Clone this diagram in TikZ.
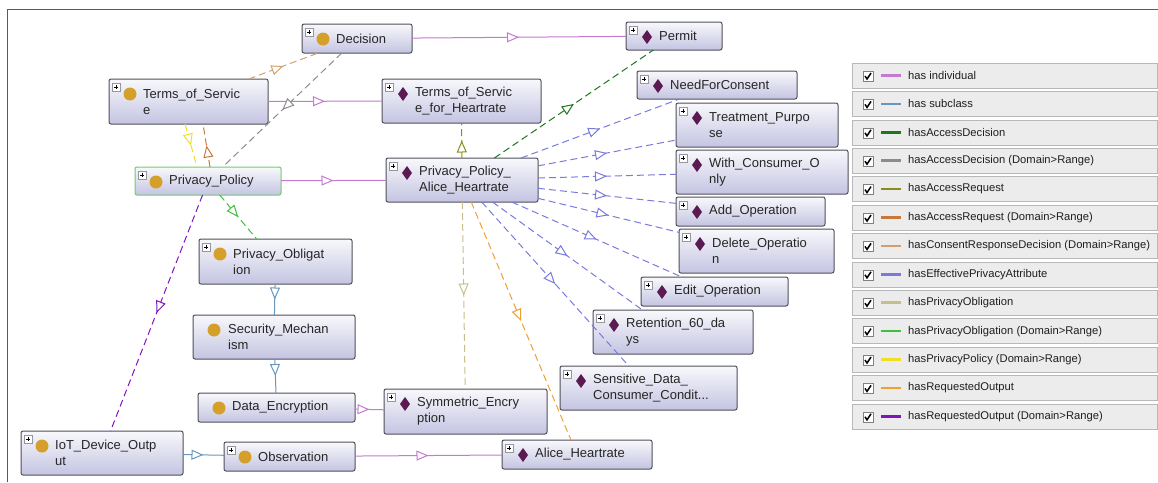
\documentclass[tikz,border=0pt]{standalone}
\usepackage{fontspec}
\setmainfont{Liberation Sans}
\usetikzlibrary{arrows.meta,decorations.markings}

% Colores de las cajas
\definecolor{boxline}{RGB}{80,80,90}
\definecolor{boxtop}{RGB}{248,248,252}
\definecolor{boxbot}{RGB}{196,196,226}
\definecolor{gold}{RGB}{212,160,42}
\definecolor{plum}{RGB}{92,26,82}
\definecolor{ppgreen}{RGB}{110,205,110}
\definecolor{frame}{RGB}{90,90,90}
\definecolor{rowfill}{RGB}{236,236,236}
\definecolor{rowline}{RGB}{184,184,184}
% Colores de las relaciones
\definecolor{indv}{RGB}{196,122,208}
\definecolor{subc}{RGB}{104,150,190}
\definecolor{accdec}{RGB}{30,118,30}
\definecolor{accdecdr}{RGB}{140,140,140}
\definecolor{accreq}{RGB}{140,140,30}
\definecolor{accreqdr}{RGB}{200,120,60}
\definecolor{consdr}{RGB}{210,160,110}
\definecolor{effpriv}{RGB}{122,122,222}
\definecolor{privobl}{RGB}{200,190,140}
\definecolor{privobldr}{RGB}{64,190,64}
\definecolor{privpoldr}{RGB}{240,222,40}
\definecolor{reqout}{RGB}{240,160,50}
\definecolor{reqoutdr}{RGB}{128,20,190}

\begin{document}
\begin{tikzpicture}[x=1pt, y=-1pt,
    box/.style={draw=boxline, line width=1pt, rounded corners=2pt, top color=boxtop, bottom color=boxbot, anchor=north west, inner sep=0pt, outer sep=0pt},
    txt/.style={anchor=west, inner sep=0pt, align=left, text=black!85, font=\fontsize{13}{16}\selectfont},
    rel/.style={line width=1pt, postaction={decorate}, decoration={markings, mark=at position 0.5 with {\arrow{Triangle[open, fill=white, length=12pt, width=10pt]}}}},
    dsh/.style={dash pattern=on 7pt off 4pt},
    legrow/.style={draw=rowline, fill=rowfill, anchor=north west, minimum width=305pt, minimum height=25pt, inner sep=0pt, outer sep=0pt},
    legtxt/.style={anchor=west, inner sep=0pt, text=black!88, font=\fontsize{11.2}{13}\selectfont}]
    \useasboundingbox (0,0) rectangle (1158,482);

    % Marco
    \draw[frame, line width=1pt] (7,482) -- (7,9) -- (1158,9);

    % Clases
    \node[box, minimum width=110pt, minimum height=29pt] (dec) at (302,24) {};
    \node[txt] (dec-t) at ([xshift=34pt]dec.west) {Decision};
    \node[box, minimum width=159pt, minimum height=45pt] (tos) at (109,79) {};
    \node[txt] (tos-t) at ([xshift=34pt]tos.west) {Terms\_of\_Servic\\e};
    \node[box, draw=ppgreen, minimum width=146pt, minimum height=28pt] (pp) at (135,167) {};
    \node[txt] (pp-t) at ([xshift=34pt]pp.west) {Privacy\_Policy};
    \node[box, minimum width=153pt, minimum height=45pt] (po) at (199,239) {};
    \node[txt] (po-t) at ([xshift=34pt]po.west) {Privacy\_Obligat\\ion};
    \node[box, minimum width=162pt, minimum height=44pt] (sm) at (193,315) {};
    \node[txt] (sm-t) at ([xshift=35pt]sm.west) {Security\_Mechan\\ism};
    \node[box, minimum width=157pt, minimum height=29pt] (de) at (198,393) {};
    \node[txt] (de-t) at ([xshift=34pt]de.west) {Data\_Encryption};
    \node[box, minimum width=162pt, minimum height=44pt] (iot) at (21,431) {};
    \node[txt] (iot-t) at ([xshift=34pt]iot.west) {IoT\_Device\_Outp\\ut};
    \node[box, minimum width=131pt, minimum height=29pt] (obs) at (224,442) {};
    \node[txt] (obs-t) at ([xshift=34pt]obs.west) {Observation};

    % Individuos
    \node[box, minimum width=96pt, minimum height=28pt] (perm) at (626,22) {};
    \node[txt] (perm-t) at ([xshift=33pt]perm.west) {Permit};
    \node[box, minimum width=159pt, minimum height=44pt] (tosh) at (382,79) {};
    \node[txt] (tosh-t) at ([xshift=33pt]tosh.west) {Terms\_of\_Servic\\e\_for\_Heartrate};
    \node[box, minimum width=152pt, minimum height=44pt] (ppah) at (386,158) {};
    \node[txt] (ppah-t) at ([xshift=33pt]ppah.west) {Privacy\_Policy\_\\Alice\_Heartrate};
    \node[box, minimum width=160pt, minimum height=28pt] (nfc) at (637,71) {};
    \node[txt] (nfc-t) at ([xshift=33pt]nfc.west) {NeedForConsent};
    \node[box, minimum width=162pt, minimum height=44pt] (tp) at (676,103) {};
    \node[txt] (tp-t) at ([xshift=33pt]tp.west) {Treatment\_Purpo\\se};
    \node[box, minimum width=172pt, minimum height=44pt] (wco) at (676,150) {};
    \node[txt] (wco-t) at ([xshift=33pt]wco.west) {With\_Consumer\_O\\nly};
    \node[box, minimum width=149pt, minimum height=29pt] (addop) at (676,197) {};
    \node[txt] (addop-t) at ([xshift=33pt]addop.west) {Add\_Operation};
    \node[box, minimum width=155pt, minimum height=44pt] (delop) at (679,229) {};
    \node[txt] (delop-t) at ([xshift=33pt]delop.west) {Delete\_Operatio\\n};
    \node[box, minimum width=147pt, minimum height=29pt] (editop) at (641,277) {};
    \node[txt] (editop-t) at ([xshift=33pt]editop.west) {Edit\_Operation};
    \node[box, minimum width=160pt, minimum height=44pt] (ret) at (593,310) {};
    \node[txt] (ret-t) at ([xshift=33pt]ret.west) {Retention\_60\_da\\ys};
    \node[box, minimum width=177pt, minimum height=44pt] (sens) at (560,366) {};
    \node[txt] (sens-t) at ([xshift=33pt]sens.west) {Sensitive\_Data\_\\Consumer\_Condit...};
    \node[box, minimum width=163pt, minimum height=45pt] (symenc) at (384,389) {};
    \node[txt] (symenc-t) at ([xshift=33pt]symenc.west) {Symmetric\_Encry\\ption};
    \node[box, minimum width=150pt, minimum height=29pt] (ah) at (502,440) {};
    \node[txt] (ah-t) at ([xshift=33pt]ah.west) {Alice\_Heartrate};

    % Botones de expandir
    \foreach \n in {dec,tos,pp,po,iot,obs,perm,tosh,ppah,nfc,tp,wco,addop,delop,editop,ret,sens,symenc,ah} {
      \draw[boxline!60, fill=white] ([shift={(3,4)}]\n.north west) rectangle +(8,8);
      \draw[black, line width=0.8pt] ([shift={(4.8,8)}]\n.north west) -- +(4.4,0)
        ([shift={(7,5.8)}]\n.north west) -- +(0,4.4);
    }
    % Iconos
    \foreach \n in {dec,tos,pp,po,sm,de,iot,obs}
      \fill[gold] ([shift={(21,15)}]\n.north west) circle (6.5pt);
    \foreach \n in {perm,tosh,ppah,nfc,tp,wco,addop,delop,editop,ret,sens,symenc,ah}
      \fill[plum] ([shift={(16,15)}]\n.north west) -- ++(5,-7) -- ++(5,7) -- ++(-5,7) -- cycle;

    % has individual / has subclass
    \draw[rel, indv] (dec) -- (perm);
    \draw[rel, indv] (tos) -- (tosh);
    \draw[rel, indv] (pp) -- (ppah);
    \draw[rel, indv] (de) -- (symenc);
    \draw[rel, indv] (obs) -- (ah);
    \draw[rel, subc] (po) -- (sm);
    \draw[rel, subc] (sm) -- (de);
    \draw[rel, subc] (iot) -- (obs);

    % Relaciones (Domain>Range)
    \draw[rel, dsh, consdr] (tos) -- (dec);
    \draw[rel, dsh, accdecdr] (dec) -- (pp);
    \draw[rel, dsh, privpoldr] ([xshift=-3.5pt]tos.south) -- ([xshift=-11pt]pp.north);
    \draw[rel, dsh, accreqdr] ([xshift=2pt]pp.north) -- ([xshift=14.5pt]tos.south);
    \draw[rel, dsh, privobldr] (pp) -- (po);
    \draw[rel, dsh, reqoutdr] (pp) -- (iot);

    % Relaciones del individuo Privacy_Policy_Alice_Heartrate
    \draw[rel, dsh, accdec] (ppah) -- (perm);
    \draw[rel, dsh, accreq] (ppah) -- (tosh);
    \draw[rel, dsh, privobl] (ppah) -- (symenc);
    \draw[rel, dsh, reqout] (ppah) -- (ah);
    \foreach \n in {nfc,tp,wco,addop,delop,editop,ret,sens}
      \draw[rel, dsh, effpriv] (ppah) -- (\n);

    % Leyenda
    \foreach \col/\lab [count=\i from 0] in {indv/has individual, subc/has subclass, accdec/hasAccessDecision, accdecdr/hasAccessDecision (Domain>Range), accreq/hasAccessRequest, accreqdr/hasAccessRequest (Domain>Range), consdr/hasConsentResponseDecision (Domain>Range), effpriv/hasEffectivePrivacyAttribute, privobl/hasPrivacyObligation, privobldr/hasPrivacyObligation (Domain>Range), privpoldr/hasPrivacyPolicy (Domain>Range), reqout/hasRequestedOutput, reqoutdr/hasRequestedOutput (Domain>Range)} {
      \node[legrow] (row\i) at (852,{63+28.4*\i}) {};
      \draw[rowline!70!black, fill=white] ([shift={(11,8)}]row\i.north west) rectangle +(10,10);
      \draw[black, line width=1.5pt] ([shift={(13,13)}]row\i.north west) -- ++(2,3) -- ++(4,-6);
      \draw[\col, line width=2.5pt] ([shift={(29,12.5)}]row\i.north west) -- +(20,0);
      \node[legtxt] (leg\i) at ([shift={(56,12.5)}]row\i.north west) {\lab};
    }
\end{tikzpicture}
\end{document}
